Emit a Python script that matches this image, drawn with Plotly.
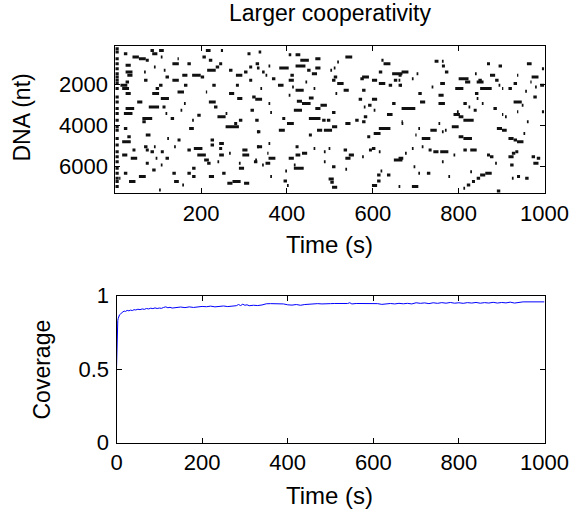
import plotly.graph_objects as go

# ---------------- data ----------------
# Bound-protein dashes read from the kymograph: (DNA position nt, t_on s, t_off s)
left_edge = [(260, 0, 8), (423, 0, 8), (748, 0, 8), (992, 0, 8), (1236, 0, 8), (1480, 0, 8),
             (1642, 0, 8), (1805, 0, 8), (1967, 0, 8), (2211, 0, 8), (2618, 0, 8), (2862, 0, 8),
             (3187, 0, 8), (3431, 0, 8), (3756, 0, 8), (4081, 0, 8), (4244, 0, 8), (4650, 0, 8),
             (4976, 0, 8), (5301, 0, 8), (5545, 0, 8), (5789, 0, 8), (6114, 0, 8), (6358, 0, 8),
             (6602, 0, 8), (6764, 0, 8), (7008, 0, 8)]

bound_early = [
    (341, 82, 90), (341, 102, 113), (341, 211, 222), (341, 246, 251),
    (504, 20, 28), (504, 86, 98), (504, 308, 315),
    (667, 40, 55), (667, 106, 110), (667, 203, 211),
    (748, 55, 71), (748, 145, 148),
    (829, 71, 78), (829, 218, 226),
    (992, 133, 148), (992, 168, 176), (992, 242, 249), (992, 327, 335),
    (1073, 24, 36),
    (1154, 90, 94), (1154, 234, 242), (1154, 312, 319),
    (1317, 214, 234), (1317, 113, 117), (1317, 265, 273),
    (1398, 24, 40), (1398, 67, 71), (1398, 300, 308),
    (1561, 28, 40), (1561, 156, 168), (1561, 179, 199), (1561, 281, 296),
    (1642, 117, 125), (1642, 199, 207),
    (1805, 67, 75), (1805, 133, 148), (1805, 312, 319),
    (1886, 24, 32),
    (2049, 12, 28), (2049, 102, 110), (2049, 160, 168), (2049, 226, 234), (2049, 281, 288),
    (2211, 16, 32), (2211, 94, 102),
    (2374, 145, 160), (2374, 211, 214),
    (2455, 24, 36), (2455, 86, 102), (2455, 265, 277),
    (2618, 319, 327),
    (2699, 106, 125), (2699, 284, 296),
    (2862, 51, 63), (2862, 218, 234),
    (2943, 160, 164),
    (3106, 78, 102), (3106, 110, 117), (3106, 230, 238),
    (3187, 24, 44),
    (3268, 152, 156), (3268, 315, 323),
    (3431, 20, 40), (3431, 117, 121), (3431, 257, 261),
    (3512, 191, 199),
    (3594, 238, 257),
    (3675, 63, 86), (3675, 129, 137),
    (3756, 179, 183), (3756, 288, 296),
    (3837, 63, 71),
    (3919, 277, 284),
    (4081, 257, 288),
    (4163, 172, 183), (4163, 20, 28),
    (4325, 331, 335),
    (4488, 71, 82),
    (4569, 28, 36),
    (4650, 121, 125),
    (4732, 145, 152), (4732, 222, 230),
    (4813, 16, 36),
    (4894, 242, 253),
    (4976, 222, 230),
    (5057, 67, 75), (5057, 90, 94), (5057, 137, 141), (5057, 331, 335),
    (5138, 183, 203), (5138, 242, 249),
    (5219, 40, 47), (5219, 71, 78), (5219, 168, 176), (5219, 296, 308),
    (5301, 82, 90), (5301, 106, 113),
    (5382, 265, 269),
    (5463, 16, 28), (5463, 191, 211), (5463, 242, 253), (5463, 296, 312),
    (5626, 36, 51), (5626, 94, 98), (5626, 117, 125),
    (5707, 207, 218),
    (5789, 238, 242), (5789, 323, 331),
    (5870, 71, 78), (5870, 214, 222), (5870, 288, 292),
    (5951, 106, 110),
    (6114, 179, 187), (6114, 288, 300),
    (6195, 86, 94),
    (6358, 20, 28), (6358, 133, 141), (6358, 168, 176), (6358, 249, 257),
    (6520, 55, 71), (6520, 179, 187), (6520, 218, 230),
    (6602, 9, 12),
    (6764, 32, 47), (6764, 137, 148), (6764, 273, 292),
    (6845, 261, 273), (6845, 300, 312),
    (6927, 156, 160),
    (7171, 102, 106),
]

bound_middle = [
    (423, 334, 340),
    (553, 420, 431), (553, 404, 410),
    (667, 536, 552),
    (748, 466, 478),
    (829, 431, 451), (829, 620, 625),
    (911, 517, 521),
    (992, 625, 641),
    (1106, 420, 443), (1106, 357, 361),
    (1203, 382, 404), (1203, 466, 478), (1203, 330, 336), (1203, 509, 513),
    (1317, 447, 455), (1317, 501, 505),
    (1398, 342, 348), (1398, 614, 622),
    (1480, 458, 470), (1480, 645, 669),
    (1561, 350, 354), (1561, 408, 416),
    (1642, 509, 517), (1642, 575, 591),
    (1724, 365, 373), (1724, 571, 579),
    (1805, 404, 416), (1805, 505, 513), (1805, 598, 610), (1805, 649, 657),
    (1886, 443, 447),
    (1967, 517, 532), (1967, 614, 629),
    (2049, 379, 392), (2049, 637, 645), (2049, 660, 668),
    (2130, 412, 416),
    (2211, 338, 342), (2211, 462, 466),
    (2293, 420, 439), (2293, 532, 544), (2293, 575, 583),
    (2455, 513, 517),
    (2537, 404, 408),
    (2667, 451, 462),
    (2732, 326, 342), (2732, 567, 575), (2732, 598, 610),
    (2829, 423, 435),
    (2943, 357, 361), (2943, 435, 455), (2943, 645, 653),
    (3024, 478, 493), (3024, 589, 597),
    (3106, 579, 583),
    (3187, 466, 478),
    (3268, 416, 435), (3268, 602, 606),
    (3382, 361, 365), (3382, 505, 513),
    (3480, 633, 646),
    (3594, 579, 587),
    (3675, 389, 396), (3675, 451, 478),
    (3756, 326, 334), (3756, 482, 490), (3756, 559, 567), (3756, 493, 501),
    (3837, 575, 583), (3837, 667, 669),
    (3919, 400, 416), (3919, 536, 548),
    (4081, 505, 517),
    (4163, 614, 641),
    (4244, 381, 395), (4244, 470, 482), (4244, 486, 505),
    (4325, 330, 338),
    (4407, 602, 618),
    (4488, 451, 458),
    (4569, 587, 594),
    (4894, 357, 361),
    (5057, 330, 342), (5057, 420, 427),
    (5138, 462, 466), (5138, 497, 501), (5138, 598, 606),
    (5219, 532, 540), (5219, 591, 598),
    (5301, 486, 490), (5301, 614, 618),
    (5382, 435, 447), (5382, 354, 357),
    (5463, 420, 431), (5463, 544, 556),
    (5545, 575, 579),
    (5626, 357, 373), (5626, 404, 416), (5626, 536, 548),
    (5707, 326, 330), (5707, 649, 669),
    (5789, 486, 490),
    (5870, 350, 361),
    (5951, 342, 346), (5951, 416, 420),
    (6032, 505, 513),
    (6114, 416, 439),
    (6163, 536, 540),
    (6244, 396, 400), (6244, 618, 622),
    (6439, 610, 618), (6439, 633, 641),
    (6520, 361, 365),
    (6634, 497, 509),
    (6732, 392, 400), (6732, 610, 618),
    (6797, 501, 509),
    (6959, 400, 404), (6959, 598, 610),
    (7041, 505, 517),
]

bound_late = [
    (878, 744, 753), (878, 761, 765),
    (992, 866, 873), (992, 959, 970),
    (1106, 761, 768), (1106, 893, 901),
    (1236, 994, 999),
    (1398, 667, 683), (1398, 768, 776),
    (1480, 702, 706), (1480, 838, 842),
    (1561, 660, 667), (1561, 873, 885), (1561, 936, 939),
    (1642, 970, 986),
    (1724, 691, 695), (1724, 800, 823),
    (1805, 660, 664), (1805, 885, 893), (1805, 846, 854),
    (1886, 815, 827), (1886, 842, 858), (1886, 967, 970),
    (1967, 757, 768), (1967, 928, 936),
    (2049, 664, 667), (2049, 893, 897), (2049, 990, 999),
    (2130, 737, 741), (2130, 978, 982),
    (2211, 792, 811), (2211, 850, 877), (2211, 901, 904), (2211, 916, 924),
    (2341, 955, 959),
    (2455, 706, 714), (2455, 838, 846),
    (2537, 753, 765),
    (2618, 974, 982),
    (2699, 842, 846),
    (2862, 710, 722), (2862, 928, 947),
    (2943, 753, 768), (2943, 811, 819), (2943, 854, 858),
    (3024, 947, 951),
    (3106, 823, 827),
    (3187, 667, 699), (3187, 881, 889),
    (3268, 835, 842),
    (3350, 936, 939), (3350, 796, 800), (3350, 994, 999),
    (3480, 788, 803), (3480, 901, 904),
    (3594, 800, 811), (3594, 908, 912),
    (3756, 811, 835),
    (3837, 959, 963),
    (3919, 667, 671), (3919, 753, 757),
    (4081, 784, 800),
    (4163, 889, 901), (4163, 706, 710),
    (4244, 734, 749), (4244, 768, 772), (4244, 901, 912),
    (4325, 761, 765),
    (4407, 951, 955),
    (4488, 699, 702),
    (4569, 800, 811),
    (4650, 714, 734), (4650, 811, 831), (4650, 916, 928),
    (4732, 928, 936),
    (4813, 936, 951),
    (5057, 714, 718),
    (5138, 691, 695),
    (5219, 730, 737), (5219, 811, 819), (5219, 827, 842),
    (5301, 757, 776), (5301, 741, 753), (5301, 932, 939),
    (5382, 675, 679), (5382, 924, 932),
    (5463, 788, 792), (5463, 866, 873),
    (5545, 916, 928), (5545, 873, 881), (5545, 970, 978),
    (5626, 660, 671), (5626, 982, 990),
    (5789, 761, 765),
    (5870, 885, 889), (5870, 974, 986),
    (5951, 920, 928),
    (6032, 695, 699),
    (6276, 827, 831),
    (6358, 726, 734), (6358, 862, 877), (6358, 706, 710),
    (6439, 850, 862),
    (6520, 776, 780), (6520, 936, 943),
    (6602, 842, 850), (6602, 955, 963), (6602, 924, 928),
    (6764, 831, 838),
    (6927, 819, 827),
    (7008, 691, 706), (7008, 660, 664),
    (7089, 811, 815),
    (7219, 889, 897),
]

# Coverage vs time
cov_t = [0, 1, 2, 3, 4, 5, 7, 9, 12, 15, 18, 21, 25, 29, 33, 37, 41, 45, 50, 55, 60, 65, 70,
         75, 80, 85, 90, 95, 100, 105, 110, 115, 120, 125, 130, 140, 150, 160, 170, 180, 190,
         200, 210, 220, 230, 240, 250, 260, 270, 280, 285, 290, 295, 300, 305, 310, 320, 330,
         340, 350, 360, 370, 380, 390, 400, 410, 420, 430, 440, 450, 460, 470, 480, 490, 500,
         510, 520, 530, 540, 545, 550, 560, 570, 580, 590, 600, 610, 620, 630, 640, 650, 660,
         670, 680, 690, 700, 710, 720, 730, 740, 750, 760, 770, 780, 790, 800, 810, 820, 830,
         840, 850, 860, 870, 880, 890, 900, 910, 920, 930, 940, 950, 1000]
cov_v = [0.50, 0.70, 0.80, 0.83, 0.845, 0.855, 0.87, 0.875, 0.885, 0.89, 0.895, 0.893, 0.90,
         0.897, 0.902, 0.899, 0.905, 0.903, 0.908, 0.905, 0.91, 0.907, 0.913, 0.91, 0.915,
         0.912, 0.917, 0.913, 0.916, 0.914, 0.92, 0.924, 0.918, 0.921, 0.916, 0.92, 0.923,
         0.919, 0.924, 0.92, 0.925, 0.927, 0.925, 0.929, 0.924, 0.928, 0.93, 0.926, 0.93,
         0.932, 0.94, 0.933, 0.942, 0.935, 0.938, 0.932, 0.935, 0.933, 0.937, 0.945, 0.946,
         0.946, 0.945, 0.944, 0.938, 0.936, 0.94, 0.935, 0.94, 0.943, 0.942, 0.946, 0.944,
         0.947, 0.946, 0.947, 0.947, 0.946, 0.947, 0.952, 0.944, 0.947, 0.947, 0.947, 0.945,
         0.946, 0.946, 0.941, 0.945, 0.947, 0.944, 0.948, 0.945, 0.948, 0.944, 0.952, 0.948,
         0.951, 0.946, 0.952, 0.948, 0.953, 0.949, 0.954, 0.949, 0.952, 0.948, 0.953, 0.95,
         0.954, 0.949, 0.953, 0.95, 0.955, 0.95, 0.954, 0.951, 0.956, 0.95, 0.955, 0.958, 0.958]

top_xticks = [200, 400, 600, 800, 1000]
top_yticks = [2000, 4000, 6000]
bot_xticks = [0, 200, 400, 600, 800, 1000]
bot_yticks = [0, 0.5, 1]
bot_ytext = ["0", "0.5", "1"]

# ---------------- figure ----------------
W, H = 572, 511
FONT = "Liberation Sans, Arial, sans-serif"
FS = 22

seg_x, seg_y = [], []
for group in (left_edge, bound_early, bound_middle, bound_late):
    for pos, t0, t1 in group:
        seg_x += [t0, max(t1, t0 + 3), None]
        seg_y += [pos, pos, None]

fig = go.Figure()
fig.add_trace(go.Scatter(x=seg_x, y=seg_y, mode="lines",
                         line=dict(color="#111111", width=3),
                         xaxis="x", yaxis="y", hoverinfo="skip", showlegend=False))
fig.add_trace(go.Scatter(x=cov_t, y=cov_v, mode="lines",
                         line=dict(color="#0000ff", width=1),
                         xaxis="x2", yaxis="y2", showlegend=False))

ax_common = dict(showline=True, linecolor="black", linewidth=1, mirror="ticks",
                 ticks="inside", ticklen=5, tickcolor="black", tickwidth=1,
                 showgrid=False, zeroline=False, automargin=False,
                 tickfont=dict(family=FONT, size=FS, color="black"))

x_top = (115.3 / W, 544.5 / W)
x_bot = (116.5 / W, 544.5 / W)
y_top = ((H - 193) / H, (H - 45.7) / H)
y_bot = ((H - 442.7) / H, (H - 295.7) / H)

fig.update_layout(
    template="none",
    width=W, height=H, autosize=False,
    margin=dict(l=0, r=0, t=0, b=0, pad=0),
    paper_bgcolor="white", plot_bgcolor="white",
    xaxis=dict(domain=x_top, range=[0, 1000], tickvals=top_xticks,
               ticklabelstandoff=1, anchor="y", **ax_common),
    yaxis=dict(domain=y_top, range=[7322, 111], tickvals=top_yticks,
               ticklabelstandoff=2, anchor="x", **ax_common),
    xaxis2=dict(domain=x_bot, range=[0, 1000], tickvals=bot_xticks,
                ticklabelstandoff=0, anchor="y2", **ax_common),
    yaxis2=dict(domain=y_bot, range=[0, 1], tickvals=bot_yticks, ticktext=bot_ytext,
                ticklabelstandoff=2, anchor="x2", **ax_common),
)

def label(text, xp, yp, size, angle=0):
    fig.add_annotation(text=text, x=xp / W, y=1 - yp / H, xref="paper", yref="paper",
                       xanchor="center", yanchor="middle", showarrow=False, textangle=angle,
                       font=dict(family=FONT, size=size, color="black"))

label("Larger cooperativity", 329.5, 13, 23)
label("Time (s)", 329.5, 245, 24)
label("Time (s)", 329.5, 495, 24)
label("DNA (nt)", 21.5, 118, 23, -90)
label("Coverage", 41.5, 370, 23, -90)

fig.write_html("out.html", config={"displayModeBar": False})
